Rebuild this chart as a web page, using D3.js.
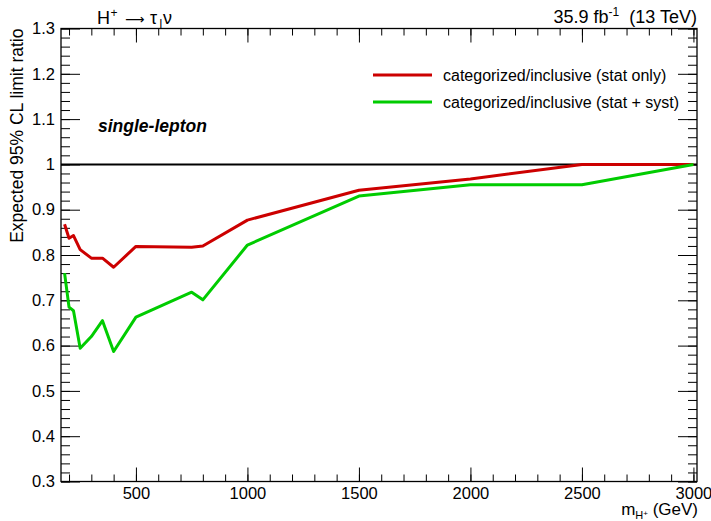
<!DOCTYPE html>
<html>
<head>
<meta charset="utf-8">
<script src="https://cdn.jsdelivr.net/npm/d3@7.9.0/dist/d3.min.js"></script>
<style>
  body { margin: 0; background: #fff; }
  svg text { font-family: "Liberation Sans", Arial, sans-serif; fill: #000; }
  .axis path { display: none; }
  .axis line { stroke: #000; stroke-width: 1; }
</style>
</head>
<body>
<svg id="chart" width="711" height="521"></svg>
<script>
// charged Higgs mass points (GeV)
const masses = [180, 200, 220, 250, 300, 350, 400, 500, 750, 800, 1000, 1500, 2000, 2500, 3000];
// categorized / inclusive expected limit ratio
const statOnly = [0.868, 0.837, 0.843, 0.812, 0.793, 0.793, 0.773, 0.819, 0.817, 0.820, 0.877, 0.943, 0.968, 1.0, 1.0];
const statSyst = [0.760, 0.685, 0.677, 0.594, 0.620, 0.655, 0.587, 0.663, 0.718, 0.701, 0.822, 0.930, 0.955, 0.955, 1.0];

const xTicks = [500, 1000, 1500, 2000, 2500, 3000];
const yTicks = [0.3, 0.4, 0.5, 0.6, 0.7, 0.8, 0.9, 1.0, 1.1, 1.2, 1.3];

const legendLabels = ['categorized/inclusive (stat only)', 'categorized/inclusive (stat + syst)'];
const colors = ['#cc0000', '#00cc00'];

const padL = 61, padR = 697, padT = 28.5, padB = 481.5;

const svg = d3.select('#chart');

let x = d3.scaleLinear().domain([164, 3016]).range([padL, padR]);
let y = d3.scaleLinear().domain([0.3, 1.3]).range([padB, padT]);

// minor ticks
let xMinor = d3.range(200, 3001, 100);
let yMinor = d3.range(0.3, 1.3001, 0.02);

function addAxis(axis, tx, ty) {
    svg.append('g').attr('class', 'axis')
        .attr('transform', `translate(${tx},${ty})`)
        .call(axis);
}

// bottom axis
addAxis(d3.axisBottom(x).tickValues(xMinor).tickSize(-7).tickFormat(''), 0, padB);
addAxis(d3.axisBottom(x).tickValues(xTicks).tickSize(-14).tickPadding(6)
    .tickFormat(d3.format('d')), 0, padB);
// top axis
addAxis(d3.axisTop(x).tickValues(xMinor).tickSize(-7).tickFormat(''), 0, padT);
addAxis(d3.axisTop(x).tickValues(xTicks).tickSize(-14).tickFormat(''), 0, padT);
// left axis
addAxis(d3.axisLeft(y).tickValues(yMinor).tickSize(-9).tickFormat(''), padL, 0);
addAxis(d3.axisLeft(y).tickValues(yTicks).tickSize(-19).tickPadding(6)
    .tickFormat(d3.format('~g')), padL, 0);
// right axis
addAxis(d3.axisRight(y).tickValues(yMinor).tickSize(-9).tickFormat(''), padR, 0);
addAxis(d3.axisRight(y).tickValues(yTicks).tickSize(-19).tickFormat(''), padR, 0);

svg.selectAll('.axis text').style('font-size', '16.5px');

// frame
svg.append('rect')
    .attr('x', padL).attr('y', padT)
    .attr('width', padR - padL).attr('height', padB - padT)
    .attr('fill', 'none').attr('stroke', '#000').attr('stroke-width', 1.3);

// reference line at 1
svg.append('line')
    .attr('x1', padL).attr('x2', padR)
    .attr('y1', y(1)).attr('y2', y(1))
    .attr('stroke', '#000').attr('stroke-width', 2);

let line = d3.line()
    .x((d) => x(d[0]))
    .y((d) => y(d[1]));

[statOnly, statSyst].forEach((vals, i) => {
    svg.append('path')
        .datum(masses.map((m, j) => [m, vals[j]]))
        .attr('d', line)
        .attr('fill', 'none')
        .attr('stroke', colors[i])
        .attr('stroke-width', 3)
        .attr('stroke-linejoin', 'round');
});

// legend
legendLabels.forEach((label, i) => {
    let ly = 75 + i * 27;
    svg.append('line')
        .attr('x1', 373).attr('x2', 432)
        .attr('y1', ly).attr('y2', ly)
        .attr('stroke', colors[i]).attr('stroke-width', 3);
    svg.append('text')
        .attr('x', 443).attr('y', ly + 6)
        .style('font-size', '16px')
        .text(label);
});

svg.append('text')
    .attr('x', 98).attr('y', 132)
    .style('font-size', '17.5px')
    .style('font-weight', 'bold')
    .style('font-style', 'italic')
    .text('single-lepton');

// title
let title = svg.append('text').attr('y', 24).style('font-size', '18px');
title.append('tspan').attr('x', 97).text('H');
title.append('tspan').attr('x', 110.5).attr('dy', -7).style('font-size', '12px').text('+');
title.append('tspan').attr('x', 125).attr('dy', 7)
    .style('font-family', '"DejaVu Sans"').style('font-size', '13.5px').text('\u27f6');
title.append('tspan').attr('x', 150).attr('dy', 0).text('\u03c4');
title.append('tspan').attr('x', 159.5).attr('dy', 4).style('font-size', '12px').text('l');
title.append('tspan').attr('x', 163).attr('dy', -4).text('\u03bd');

let lumi = svg.append('text').attr('x', 697).attr('y', 23)
    .attr('text-anchor', 'end').style('font-size', '18px');
lumi.append('tspan').text('35.9 fb');
lumi.append('tspan').attr('dy', -7).style('font-size', '12px').text('-1');
lumi.append('tspan').attr('dy', 7).text('\u00a0 (13 TeV)');

// axis titles
let xTitle = svg.append('text').attr('x', 698).attr('y', 515)
    .attr('text-anchor', 'end').style('font-size', '17px');
xTitle.append('tspan').text('m');
xTitle.append('tspan').attr('dy', 4).style('font-size', '11px').text('H');
xTitle.append('tspan').attr('dy', -3).style('font-size', '8px').text('+');
xTitle.append('tspan').attr('dy', -1).text(' (GeV)');

svg.append('text')
    .attr('transform', `translate(23,${padT}) rotate(-90)`)
    .attr('text-anchor', 'end')
    .style('font-size', '17.5px')
    .text('Expected 95% CL limit ratio');
</script>
</body>
</html>
